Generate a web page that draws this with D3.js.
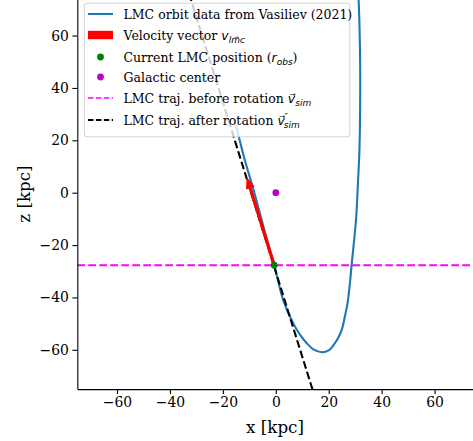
<!DOCTYPE html>
<html>
<head>
<meta charset="utf-8">
<script src="https://cdn.jsdelivr.net/npm/d3@7"></script>
<style>
  body { margin: 0; background: #fff; }
  svg { display: block; }
  text { font-family: "DejaVu Serif", serif; fill: #000; }
  .math { font-family: "DejaVu Sans", sans-serif; font-style: italic; }
</style>
</head>
<body>
<svg id="chart" width="473" height="441"></svg>
<script>
// LMC orbit (x, z) in kpc
var orbitX = [-15.4, -11.7, -8.1, -4.4, -0.6, 2.8, 6.6, 9.2, 11.7, 14.2, 17.4, 20.0, 21.8, 23.5, 24.9, 26.1, 27.1, 28.0, 28.7, 30.3, 31.1, 31.6, 31.9, 31.8, 31.3, 30.9];
var orbitZ = [27.1, 12.5, 0, -14, -27.7, -41, -49.9, -54.3, -57.5, -59.8, -60.9, -60.2, -58.2, -55.6, -52.4, -47.3, -42.2, -34.6, -27, -10.4, 5, 16.3, 40, 55, 73.6, 80];

// current LMC position and galactic centre
var lmcPos = [-0.6, -27.7];
var galCenter = [0, 0];
// velocity vector tip
var velTip = [-11.0, 6.1];
// trajectory after rotation (straight line through lmcPos)
var trajX = [-34.0, 14.9];
var trajZ = [80, -78.5];
// trajectory before rotation (horizontal)
var trajBeforeZ = -27.7;

var ticks = [-60, -40, -20, 0, 20, 40, 60];

var svg = d3.select("#chart");

// plot area (top and right edges fall outside the picture)
var xScale = d3.scaleLinear().domain([-75, 75]).range([77.3, 474.3]);
var yScale = d3.scaleLinear().domain([-75, 75]).range([389.1, -3.7]);

svg.append("defs").append("clipPath").attr("id", "clip")
  .append("rect")
    .attr("x", xScale(-75)).attr("y", yScale(75))
    .attr("width", xScale(75) - xScale(-75))
    .attr("height", yScale(-75) - yScale(75));

var plot = svg.append("g").attr("clip-path", "url(#clip)");

// orbit
var line = d3.line()
  .x(function(d) { return xScale(d[0]); })
  .y(function(d) { return yScale(d[1]); })
  .curve(d3.curveCatmullRom);

plot.append("path")
  .datum(orbitX.map(function(x, i) { return [x, orbitZ[i]]; }))
  .attr("d", line)
  .attr("fill", "none")
  .attr("stroke", "#1f77b4")
  .attr("stroke-width", 2.1);

// black dashed line (after rotation)
plot.append("line")
  .attr("x1", xScale(trajX[0])).attr("y1", yScale(trajZ[0]))
  .attr("x2", xScale(trajX[1])).attr("y2", yScale(trajZ[1]))
  .attr("stroke", "#000")
  .attr("stroke-width", 2.1)
  .attr("stroke-dasharray", "7.7,3.3");

// magenta dashed line (before rotation)
plot.append("line")
  .attr("x1", xScale(-75)).attr("x2", xScale(75))
  .attr("y1", yScale(trajBeforeZ)).attr("y2", yScale(trajBeforeZ))
  .attr("stroke", "#ff00ff")
  .attr("stroke-width", 2.1)
  .attr("stroke-dasharray", "7.7,3.3");

// velocity arrow
var ax0 = xScale(lmcPos[0]), ay0 = yScale(lmcPos[1]);
var ax1 = xScale(velTip[0]), ay1 = yScale(velTip[1]);
var len = Math.hypot(ax1 - ax0, ay1 - ay0);
var ang = Math.atan2(ay1 - ay0, ax1 - ax0) * 180 / Math.PI;
var shaftW = 1.6, headW = 4.5, headL = 12;
plot.append("path")
  .attr("transform", "translate(" + ax0 + "," + ay0 + ") rotate(" + ang + ")")
  .attr("d", "M0," + (-shaftW) + "L" + (len - headL) + "," + (-shaftW) +
             "L" + (len - headL) + "," + (-headW) + "L" + len + ",0" +
             "L" + (len - headL) + "," + headW + "L" + (len - headL) + "," + shaftW +
             "L0," + shaftW + "Z")
  .attr("fill", "#ff0000");

// points
plot.append("circle")
  .attr("cx", xScale(lmcPos[0])).attr("cy", yScale(lmcPos[1]))
  .attr("r", 3.4).attr("fill", "#008000");
plot.append("circle")
  .attr("cx", xScale(galCenter[0])).attr("cy", yScale(galCenter[1]))
  .attr("r", 3.4).attr("fill", "#bf00bf");

// axes
var xAxis = d3.axisBottom(xScale).tickValues(ticks).tickSizeInner(4.9).tickSizeOuter(0).tickPadding(3.5);
var yAxis = d3.axisLeft(yScale).tickValues(ticks).tickSizeInner(4.9).tickSizeOuter(0).tickPadding(3.5);

var gx = svg.append("g")
  .attr("transform", "translate(0," + yScale(-75) + ")")
  .call(xAxis);
var gy = svg.append("g")
  .attr("transform", "translate(" + xScale(-75) + ",0)")
  .call(yAxis);

[gx, gy].forEach(function(g) {
  g.select(".domain").attr("stroke-width", 1.1);
  g.selectAll(".tick line").attr("stroke-width", 1.1);
  g.selectAll(".tick text")
    .style("font-family", "DejaVu Serif")
    .style("font-size", "13.9px")
    .attr("fill", "#000");
});

svg.append("text")
  .attr("x", 275).attr("y", 433)
  .attr("text-anchor", "middle")
  .style("font-size", "16.7px")
  .text("x [kpc]");

svg.append("text")
  .attr("transform", "translate(30,194) rotate(-90)")
  .attr("text-anchor", "middle")
  .style("font-size", "16.7px")
  .text("z [kpc]");

// legend
var leg = svg.append("g");
leg.append("rect")
  .attr("x", 84.3).attr("y", 3.3)
  .attr("width", 265.5).attr("height", 133.4)
  .attr("rx", 3)
  .attr("fill", "#fff").attr("fill-opacity", 0.8)
  .attr("stroke", "#cccccc").attr("stroke-opacity", 0.8)
  .attr("stroke-width", 1.1);

var rowY = [14, 35, 57, 77, 98, 120];
var hx0 = 88, hx1 = 113, tx = 123.5, fs = 12.5;

leg.append("line")
  .attr("x1", hx0).attr("x2", hx1).attr("y1", rowY[0]).attr("y2", rowY[0])
  .attr("stroke", "#1f77b4").attr("stroke-width", 2.1);
leg.append("rect")
  .attr("x", hx0).attr("y", rowY[1] - 4.2)
  .attr("width", hx1 - hx0).attr("height", 8.4)
  .attr("fill", "#ff0000");
leg.append("circle").attr("cx", 100.5).attr("cy", rowY[2]).attr("r", 3.4).attr("fill", "#008000");
leg.append("circle").attr("cx", 100.5).attr("cy", rowY[3]).attr("r", 3.4).attr("fill", "#bf00bf");
leg.append("line")
  .attr("x1", hx0).attr("x2", hx1).attr("y1", rowY[4]).attr("y2", rowY[4])
  .attr("stroke", "#ff00ff").attr("stroke-width", 1.5)
  .attr("stroke-dasharray", "5.5,2.4");
leg.append("line")
  .attr("x1", hx0).attr("x2", hx1).attr("y1", rowY[5]).attr("y2", rowY[5])
  .attr("stroke", "#000").attr("stroke-width", 1.8)
  .attr("stroke-dasharray", "5.5,2.4");

function label(i) {
  return leg.append("text")
    .attr("x", tx).attr("y", rowY[i] + 4.5)
    .style("font-size", fs + "px");
}

label(0).text("LMC orbit data from Vasiliev (2021)");

var t1 = label(1);
t1.append("tspan").text("Velocity vector ");
t1.append("tspan").attr("class", "math").text("v");
t1.append("tspan").attr("class", "math").attr("dy", 3.5).style("font-size", "9px").text("lm\u20D7c");

var t2 = label(2);
t2.append("tspan").text("Current LMC position (");
t2.append("tspan").attr("class", "math").text("r");
t2.append("tspan").attr("class", "math").attr("dy", 3.5).style("font-size", "9px").text("obs");
t2.append("tspan").attr("dy", -3.5).text(")");

label(3).text("Galactic center");

var t4 = label(4);
t4.append("tspan").text("LMC traj. before rotation ");
t4.append("tspan").attr("class", "math").text("v\u20D7");
t4.append("tspan").attr("class", "math").attr("dy", 3.5).style("font-size", "9px").text("sim");

var t5 = label(5);
t5.append("tspan").text("LMC traj. after rotation ");
t5.append("tspan").attr("class", "math").text("v\u20D7");
t5.append("tspan").attr("class", "math").attr("dy", -5).style("font-size", "8px").text("\u2033");
t5.append("tspan").attr("class", "math").attr("dx", -4).attr("dy", 8.5).style("font-size", "9px").text("sim");
</script>
</body>
</html>
